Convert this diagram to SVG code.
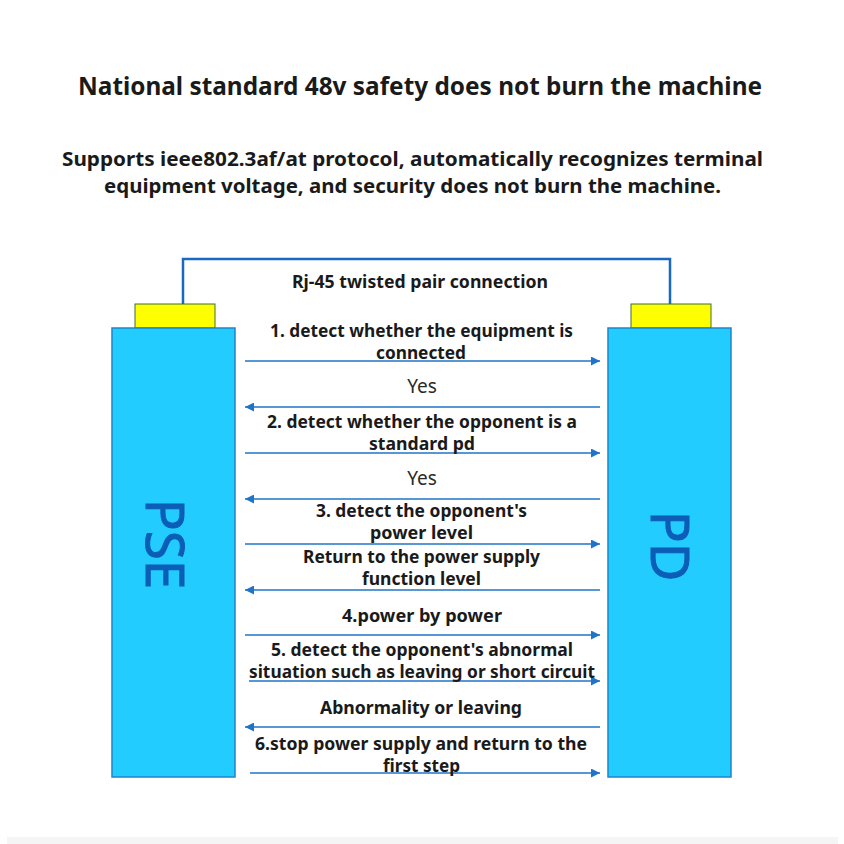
<svg xmlns="http://www.w3.org/2000/svg" width="844" height="844" viewBox="0 0 844 844">
<defs>
<marker id="ah" viewBox="0 0 10 10" refX="10" refY="5" markerWidth="10" markerHeight="9" markerUnits="userSpaceOnUse" orient="auto">
<path d="M0,0 L10,5 L0,10 z" fill="#1f74c8"/>
</marker>
</defs>
<style>
.t{font-family:"Noto Sans","Open Sans","DejaVu Sans",sans-serif;font-weight:bold;fill:#1a1a1a;text-anchor:middle}
.lb{font-size:17px}
.yes{font-family:"Noto Sans","Open Sans",sans-serif;font-size:19px;fill:#2a2a2a;text-anchor:middle}
.box{fill:#22ccff;stroke:#1e86c8;stroke-width:1.5}
.plug{fill:#ffff00;stroke:#3d6e3a;stroke-width:1}
.arr{stroke:#1f74c8;stroke-width:1.5;fill:none;marker-end:url(#ah)}
.big{font-family:"Noto Sans","Open Sans",sans-serif;font-size:53px;fill:#0b5db6;stroke:#0b5db6;stroke-width:1;text-anchor:middle}
</style>
<rect width="844" height="844" fill="#ffffff"/>
<rect x="7" y="837" width="831" height="7" fill="#f5f5f5"/>

<text class="t" x="420" y="95" font-size="25" textLength="684" lengthAdjust="spacingAndGlyphs">National standard 48v safety does not burn the machine</text>
<text class="t" x="412.5" y="166" font-size="20" textLength="701" lengthAdjust="spacingAndGlyphs">Supports ieee802.3af/at protocol, automatically recognizes terminal</text>
<text class="t" x="412.5" y="193" font-size="20" textLength="617" lengthAdjust="spacingAndGlyphs">equipment voltage, and security does not burn the machine.</text>

<g id="cable">
<polyline points="183,304 183,259 670,259 670,304" fill="none" stroke="#1a68c4" stroke-width="2.5"/>
<text class="t lb" x="420" y="288" textLength="256" lengthAdjust="spacingAndGlyphs">Rj-45 twisted pair connection</text>
</g>

<g id="pse">
<rect class="plug" x="135" y="304" width="80" height="24"/>
<rect class="box" x="112" y="328" width="123" height="449"/>
<text class="big" transform="translate(146,544) rotate(90)">PSE</text>
</g>

<g id="pd">
<rect class="plug" x="631" y="304" width="80" height="24"/>
<rect class="box" x="608" y="328" width="123" height="449"/>
<text class="big" transform="translate(651,546) rotate(90)">PD</text>
</g>

<g id="connectors">
<line class="arr" x1="245" y1="361" x2="600" y2="361"/>
<line class="arr" x1="600" y1="407" x2="245" y2="407"/>
<line class="arr" x1="245" y1="453" x2="600" y2="453"/>
<line class="arr" x1="600" y1="499" x2="245" y2="499"/>
<line class="arr" x1="245" y1="544" x2="600" y2="544"/>
<line class="arr" x1="600" y1="590" x2="245" y2="590"/>
<line class="arr" x1="245" y1="635" x2="600" y2="635"/>
<line class="arr" x1="249" y1="681" x2="600" y2="681"/>
<line class="arr" x1="600" y1="727" x2="245" y2="727"/>
<line class="arr" x1="250" y1="773" x2="600" y2="773"/>
</g>

<g id="labels">
<text class="t lb" x="421.5" y="337" textLength="303" lengthAdjust="spacingAndGlyphs">1. detect whether the equipment is</text>
<text class="t lb" x="421" y="359" textLength="90" lengthAdjust="spacingAndGlyphs">connected</text>
<text class="yes" x="422" y="393">Yes</text>
<text class="t lb" x="422" y="428" textLength="310" lengthAdjust="spacingAndGlyphs">2. detect whether the opponent is a</text>
<text class="t lb" x="422" y="450" textLength="106" lengthAdjust="spacingAndGlyphs">standard pd</text>
<text class="yes" x="422" y="485">Yes</text>
<text class="t lb" x="421.5" y="517" textLength="211" lengthAdjust="spacingAndGlyphs">3. detect the opponent's</text>
<text class="t lb" x="421.5" y="539" textLength="103" lengthAdjust="spacingAndGlyphs">power level</text>
<text class="t lb" x="421.5" y="563" textLength="237" lengthAdjust="spacingAndGlyphs">Return to the power supply</text>
<text class="t lb" x="421.5" y="585" textLength="119" lengthAdjust="spacingAndGlyphs">function level</text>
<text class="t lb" x="422" y="622" textLength="160" lengthAdjust="spacingAndGlyphs">4.power by power</text>
<text class="t lb" x="422" y="656" textLength="302" lengthAdjust="spacingAndGlyphs">5. detect the opponent's abnormal</text>
<text class="t lb" x="422" y="678" textLength="346" lengthAdjust="spacingAndGlyphs">situation such as leaving or short circuit</text>
<text class="t lb" x="421" y="714" textLength="202" lengthAdjust="spacingAndGlyphs">Abnormality or leaving</text>
<text class="t lb" x="421" y="750" textLength="332" lengthAdjust="spacingAndGlyphs">6.stop power supply and return to the</text>
<text class="t lb" x="421.5" y="772" textLength="77" lengthAdjust="spacingAndGlyphs">first step</text>
</g>
</svg>
